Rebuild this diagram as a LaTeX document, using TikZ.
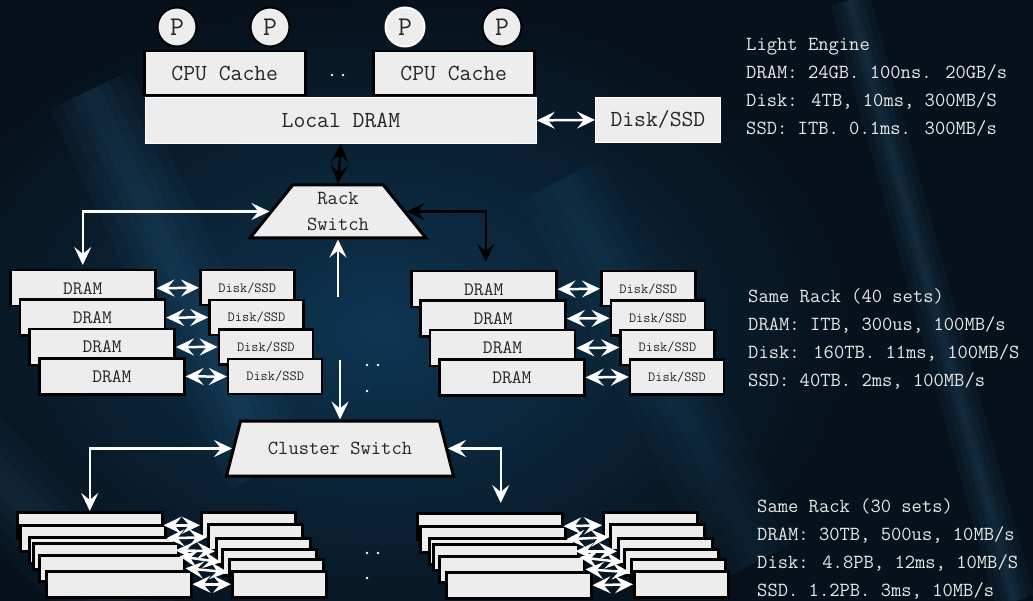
\documentclass[tikz,border=0pt]{standalone}
\usepackage{fontspec}
\usetikzlibrary{arrows.meta,shapes.geometric}

\definecolor{bgdark}{HTML}{06111B}
\definecolor{bgmid}{HTML}{0E3552}
\definecolor{streak}{HTML}{3A78A0}
\definecolor{boxgray}{HTML}{EDEDED}
\definecolor{inkgray}{HTML}{262626}
\definecolor{notegray}{HTML}{E8E8E8}

\tikzset{
  memblk/.style={draw=black, line width=2.5pt, fill=boxgray, text=inkgray,
    inner sep=0pt, anchor=north west, font=\fontsize{19}{19}\selectfont\ttfamily},
  cpubox/.style={memblk, minimum width=161pt, minimum height=44pt,
    font=\fontsize{23}{23}\selectfont\ttfamily},
  flatbox/.style={draw=white, line width=0.8pt, fill=boxgray, text=inkgray,
    inner sep=0pt, anchor=north west, font=\fontsize{23}{23}\selectfont\ttfamily},
  procnode/.style={circle, draw=black, line width=2pt, fill=boxgray, text=inkgray,
    minimum size=39pt, inner sep=0pt, font=\fontsize{27}{27}\selectfont\ttfamily},
  dramblk/.style={memblk, minimum width=145pt, minimum height=36pt},
  diskblk/.style={memblk, minimum width=94pt, minimum height=35pt,
    font=\fontsize{14}{14}\selectfont\ttfamily},
  cdram/.style={memblk, minimum width=145pt, minimum height=26pt},
  cdisk/.style={memblk, minimum width=94pt, minimum height=26pt},
  swnode/.style={trapezium, trapezium stretches body, draw=black, line width=3pt,
    fill=boxgray, text=inkgray, inner sep=0pt, align=center,
    font=\fontsize{20}{26}\selectfont\ttfamily},
  wlink/.style={draw=white, line width=2.5pt, {Stealth[length=18pt, width=17pt, inset=7pt]}-{Stealth[length=18pt, width=17pt, inset=7pt]}},
  wpush/.style={draw=white, line width=2.5pt, -{Stealth[length=18pt, width=17pt, inset=7pt]}},
  klink/.style={draw=black, line width=2.5pt, {Stealth[length=18pt, width=17pt, inset=7pt]}-{Stealth[length=18pt, width=17pt, inset=7pt]}},
  note/.style={text=notegray, align=left, anchor=north west, inner sep=0pt,
    font=\fontsize{20}{28}\selectfont\ttfamily}
}

\begin{document}
\begin{tikzpicture}[x=1pt,y=-1pt]
    \useasboundingbox (0,0) rectangle (1033,601);

    %Background: dark field, blue glow, light streaks
    \fill[bgdark] (0,0) rectangle (1033,601);
    \shade[inner color=bgmid, outer color=bgdark] (380,330) ellipse (470 and 330);
    \foreach \w in {90,65,40,20} {
      \draw[streak, line width=\w pt, opacity=0.06] (90,90) -- (270,470);
      \draw[streak, line width=\w pt, opacity=0.05] (-40,440) -- (150,640);
      \draw[streak, line width=\w pt, opacity=0.04] (560,180) -- (760,560);
    }
    \foreach \w in {40,26,14,6} {
      \draw[streak, line width=\w pt, opacity=0.07] (850,0) -- (1015,601);
    }

    %Processors and caches
    \node[procnode] (p1) at (177,27) {P};
    \node[procnode] (p2) at (270,27) {P};
    \node[procnode, draw=white] (p3) at (405,27) {P};
    \node[procnode] (p4) at (502,27) {P};
    \node[cpubox] (cacheA) at (143,50) {CPU Cache};
    \node[cpubox] (cacheB) at (372,50) {CPU Cache};
    \fill[boxgray!80] (332,75) circle (1.4pt) (343,75) circle (1.4pt);

    %Local memory and disk
    \node[flatbox, minimum width=391pt, minimum height=46pt] (ldram) at (145,97) {Local DRAM};
    \node[flatbox, minimum width=125pt, minimum height=45pt] (ldisk) at (595,97) {Disk/SSD};
    \draw[wlink] (ldram.east) -- (ldisk.west);

    %Switches
    \node[swnode, minimum width=176pt, minimum height=53pt,
      trapezium left angle=42, trapezium right angle=42] (rsw) at (338,211.5) {Rack\\Switch};
    \node[swnode, minimum width=227pt, minimum height=55pt,
      trapezium left angle=42, trapezium right angle=42] (csw) at (340,448.5) {Cluster Switch};

    %Rack level: four DRAM/disk pairs on each side
    \foreach \i in {1,...,4} {
      \node[dramblk] (dramL\i) at ({9+9.7*(\i-1)},{269+29.4*(\i-1)}) {DRAM};
      \node[diskblk] (diskL\i) at ({199+9.3*(\i-1)},{269+29.6*(\i-1)}) {Disk/SSD};
      \node[dramblk] (dramR\i) at ({410+9.4*(\i-1)},{270+29.4*(\i-1)}) {DRAM};
      \node[diskblk] (diskR\i) at ({600+9.6*(\i-1)},{270+29.4*(\i-1)}) {Disk/SSD};
    }
    \foreach \i in {1,...,4} {
      \draw[wlink] (dramL\i.east) -- (diskL\i.west);
      \draw[wlink] (dramR\i.east) -- (diskR\i.west);
    }

    %Cluster level: squashed stacks
    \foreach \x/\y [count=\i] in {16/511,19/524,28/536,32/542,38/554,45/570} {
      \node[cdram] (cdL\i) at (\x,\y) {};
      \node[cdram] (cdR\i) at (\x+400,\y+1) {};
    }
    \foreach \x/\y [count=\i] in {200/511,207/523,215/537,221/548,228/558,231/570} {
      \node[cdisk] (ckL\i) at (\x,\y) {};
      \node[cdisk] (ckR\i) at (\x+402,\y) {};
    }
    \foreach \i in {1,...,6} {
      \draw[wlink] (cdL\i.east) -- (ckL\i.west);
      \draw[wlink] (cdR\i.east) -- (ckR\i.west);
    }

    %Links between levels
    \draw[klink] (ldram.south) -- (rsw.north);
    \draw[wlink, shorten >=4pt] (rsw.west) -| (dramL1.north);
    \draw[klink, shorten >=8pt] (rsw.east) -| ([xshift=2pt]dramR1.north);
    \coordinate (rtail) at ([yshift=-57pt]rsw.south);
    \draw[wpush] (rtail) -- (rsw.south);
    \coordinate (ctail) at ([yshift=59pt]csw.north);
    \draw[wpush] (ctail) -- (csw.north);
    \draw[wlink] (csw.west) -| (cdL1.north);
    \draw[wlink, shorten >=9pt] (csw.east) -| ([xshift=11pt]cdR1.north);

    %More racks / clusters
    \fill[white] (367,365) circle (1.4pt) (378,365) circle (1.4pt) (367,391) circle (1.4pt);
    \fill[white] (367,553) circle (1.4pt) (378,553) circle (1.4pt) (367,578) circle (1.4pt);

    % Text Node
    \node[note] (nlocal) at (746,38) {Light Engine\\DRAM: 24GB. 100ns. 20GB/s\\Disk: 4TB, 10ms, 300MB/S\\SSD: ITB. 0.1ms. 300MB/s};
    % Text Node
    \node[note] (nrack) at (748,288) {Same Rack (40 sets)\\DRAM: ITB, 300us, 100MB/s\\Disk: 160TB. 11ms, 100MB/S\\SSD: 40TB. 2ms, 100MB/s};
    % Text Node
    \node[note] (ncluster) at (757,498) {Same Rack (30 sets)\\DRAM: 30TB, 500us, 10MB/s\\Disk: 4.8PB, 12ms, 10MB/S\\SSD. 1.2PB. 3ms, 10MB/s};
\end{tikzpicture}
\end{document}
